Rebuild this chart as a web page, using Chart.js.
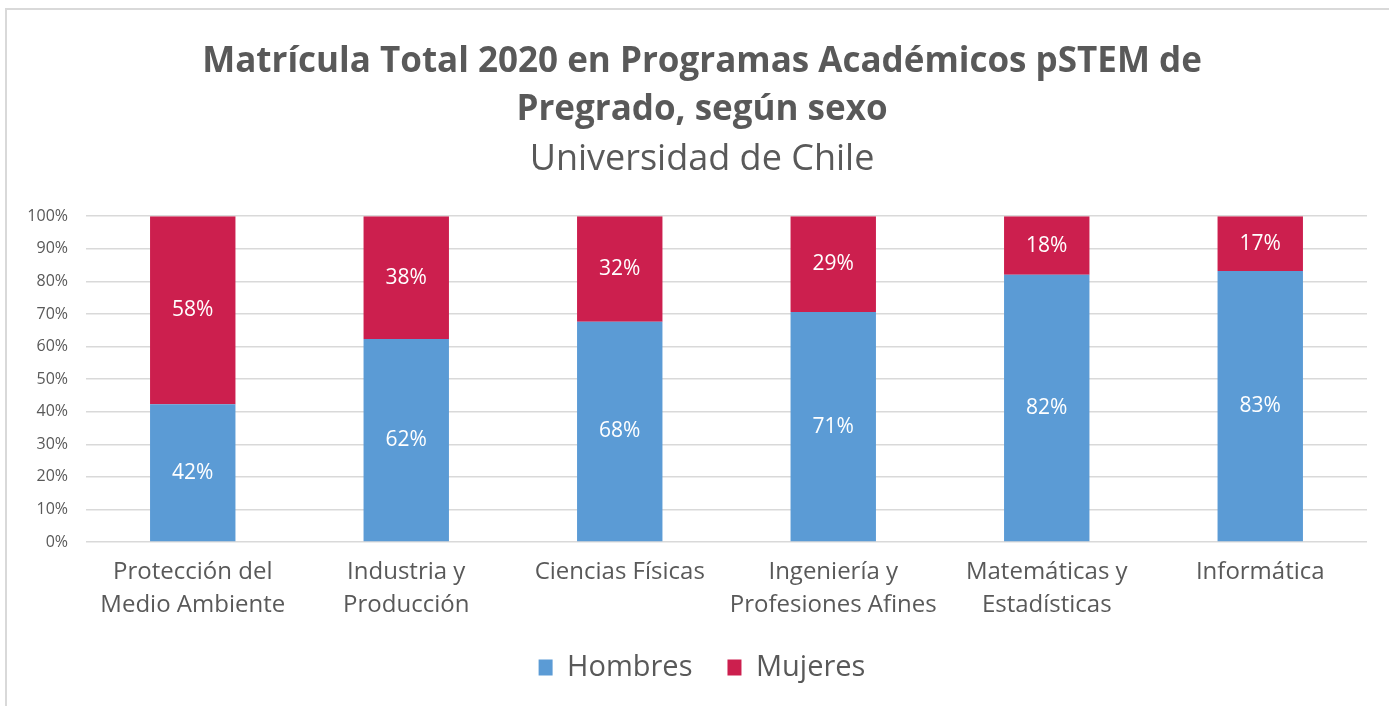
<!DOCTYPE html>
<html>
<head>
<meta charset="utf-8">
<script src="https://cdn.jsdelivr.net/npm/chart.js@4.4.1/dist/chart.umd.min.js"></script>
<style>
  html, body { margin: 0; padding: 0; background: #ffffff; }
  #wrap { position: relative; width: 1389px; height: 706px; overflow: hidden; }
  #frame { position: absolute; left: 5px; top: 8px; width: 1400px; height: 720px;
           border-left: 2px solid #d9d9d9; border-top: 2px solid #d9d9d9; }
  canvas { position: absolute; left: 0; top: 0; }
</style>
</head>
<body>
<div id="wrap">
  <div id="frame"></div>
  <canvas id="c" width="1389" height="706"></canvas>
</div>
<script>
const categories = [
  ['Protección del', 'Medio Ambiente'],
  ['Industria y', 'Producción'],
  ['Ciencias Físicas'],
  ['Ingeniería y', 'Profesiones Afines'],
  ['Matemáticas y', 'Estadísticas'],
  ['Informática']
];
const hombres = [42.3, 62.3, 67.6, 70.6, 82.0, 83.2];
const mujeres = [57.7, 37.7, 32.4, 29.4, 18.0, 16.8];
const titleLines = ['Matrícula Total 2020 en Programas Académicos pSTEM de', 'Pregrado, según sexo'];
const subtitleText = 'Universidad de Chile';

const FONT = "'Open Sans', 'DejaVu Sans', sans-serif";
const GREY = '#595959';

const dataLabels = {
  id: 'dataLabels',
  afterDatasetsDraw(chart) {
    const ctx = chart.ctx;
    ctx.save();
    ctx.fillStyle = '#ffffff';
    ctx.font = '21px ' + FONT;
    ctx.textAlign = 'center';
    ctx.textBaseline = 'middle';
    chart.data.datasets.forEach((ds, di) => {
      const meta = chart.getDatasetMeta(di);
      meta.data.forEach((el, i) => {
        const v = ds.data[i];
        const yc = (el.y + el.base) / 2;
        ctx.fillText(Math.round(v) + '%', el.x, yc);
      });
    });
    ctx.restore();
  }
};

new Chart(document.getElementById('c'), {
  type: 'bar',
  data: {
    labels: categories,
    datasets: [
      { label: 'Hombres', data: hombres, backgroundColor: '#5B9BD5', borderWidth: 0 },
      { label: 'Mujeres', data: mujeres, backgroundColor: '#CC1F4E', borderWidth: 0 }
    ]
  },
  options: {
    responsive: false,
    animation: false,
    barPercentage: 0.4,
    categoryPercentage: 1.0,
    layout: { padding: { top: 38, left: 37, right: 22, bottom: 14 } },
    plugins: {
      title: {
        display: true,
        text: titleLines,
        color: GREY,
        font: { family: FONT, size: 35, weight: '700', lineHeight: 48 / 35 },
        padding: { top: 0, bottom: 2 }
      },
      subtitle: {
        display: true,
        text: subtitleText,
        color: GREY,
        font: { family: FONT, size: 36, weight: '400', lineHeight: 1.2 },
        padding: { top: 2, bottom: 35 }
      },
      legend: {
        position: 'bottom',
        labels: {
          color: GREY,
          font: { family: FONT, size: 29 },
          boxWidth: 14,
          boxHeight: 16,
          padding: 35
        }
      },
      tooltip: { enabled: false }
    },
    scales: {
      x: {
        stacked: true,
        afterFit(scale) { scale.height = 76; },
        grid: { display: false },
        border: { display: false },
        ticks: {
          color: GREY,
          font: { family: FONT, size: 24, lineHeight: 33 / 24 },
          padding: 6,
          maxRotation: 0,
          autoSkip: false
        }
      },
      y: {
        stacked: true,
        min: 0,
        max: 100,
        afterFit(scale) {
          scale.width = 49;
          scale._computeLabelArea = function () { return undefined; };
        },
        grid: { color: '#d9d9d9', lineWidth: 1.5, drawTicks: false },
        border: { display: false },
        ticks: {
          stepSize: 10,
          color: GREY,
          padding: 18,
          font: { family: FONT, size: 16 },
          callback: v => v + '%'
        }
      }
    }
  },
  plugins: [dataLabels]
});
</script>
</body>
</html>
